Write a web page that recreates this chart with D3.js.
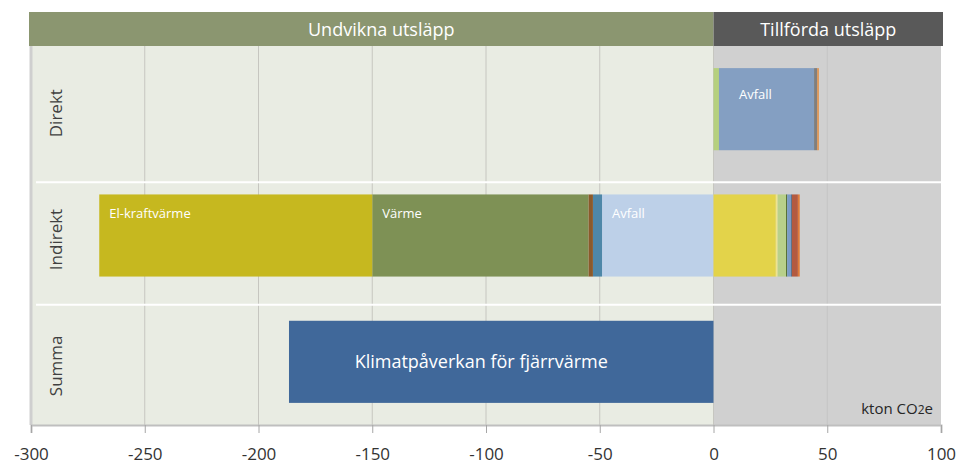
<!DOCTYPE html>
<html>
<head>
<meta charset="utf-8">
<script src="https://cdn.jsdelivr.net/npm/d3@7"></script>
<style>
  body { margin: 0; background: #fff; }
  svg text { font-family: "Open Sans", sans-serif; }
</style>
</head>
<body>
<svg id="chart"></svg>
<script>
// ---- data ----
const categories = ["Direkt", "Indirekt", "Summa"];
const headers = ["Undvikna utsläpp", "Tillförda utsläpp"];
const headerDomains = [[-300, 0], [0, 100]];
const xTicks = [-300, -250, -200, -150, -100, -50, 0, 50, 100];

// stacked outward from 0
const direktPos = [2.4, 41.8, 1.4, 0.7];
const direktPosLabels = ["", "Avfall", "", ""];
const direktPosColors = ["#b5d07e", "#849fc2", "#7f7f7f", "#e3914a"];

const indirektNeg = [49, 4, 2, 95, 120];
const indirektNegLabels = ["Avfall", "", "", "Värme", "El-kraftvärme"];
const indirektNegColors = ["#bdd0e8", "#4e87a8", "#8b5a2b", "#7e9155", "#c6b81f"];

const indirektPos = [27.4, 0.8, 3.7, 0.5, 1.8, 0.3, 2.6, 0.8];
const indirektPosColors = ["#e3d34a", "#efe48c", "#b8d08a", "#4e6b2e", "#7a9cc6", "#3d4e66", "#b35a40", "#e07b39"];

const summa = [-186.6];
const summaLabel = "Klimatpåverkan för fjärrvärme";

// ---- layout ----
const W = 961, H = 465;
const M = { top: 46, left: 31, right: 20, bottom: 40 };
const svg = d3.select("#chart").attr("width", W).attr("height", H);

const x = d3.scaleLinear().domain([-300, 100]).range([M.left, W - M.right]);
const y = d3.scaleBand().domain(categories).range([M.top, H - M.bottom]).paddingInner(0.35).paddingOuter(0.175);

// backgrounds
svg.append("rect").attr("x", x(-300)).attr("y", M.top).attr("width", x(0) - x(-300))
  .attr("height", H - M.bottom - M.top).attr("fill", "#e9ece3");
svg.append("rect").attr("x", x(0)).attr("y", M.top).attr("width", x(100) - x(0))
  .attr("height", H - M.bottom - M.top).attr("fill", "#d0d0d0");

// header bands
const headerColors = ["#8b9670", "#595959"];
headers.forEach((h, i) => {
  const [a, b] = headerDomains[i];
  const x0 = x(a) - (i === 0 ? 2 : 0), x1 = x(b) + (i === 1 ? 2 : 0);
  svg.append("rect").attr("x", x0).attr("y", 12).attr("width", x1 - x0).attr("height", M.top - 12)
    .attr("fill", headerColors[i]);
  svg.append("text").attr("x", (x0 + x1) / 2 + (i === 0 ? 10 : 0)).attr("y", 36)
    .attr("text-anchor", "middle").attr("fill", "#fff").attr("font-size", 18).text(h);
});

// gridlines
svg.append("g").selectAll("line").data(xTicks.slice(1, -1)).join("line")
  .attr("x1", d => x(d)).attr("x2", d => x(d)).attr("y1", M.top).attr("y2", H - M.bottom)
  .attr("stroke", d => d > 0 ? "#c4c4c4" : "#c6c6c0").attr("stroke-width", 1);

// row separators
const sepOffsets = [10, 6];
categories.slice(1).forEach((c, i) => {
  const yy = y(c) - y.step() * y.paddingInner() / 2 + sepOffsets[i];
  svg.append("line").attr("x1", x(-300) + 5).attr("x2", x(100)).attr("y1", yy).attr("y2", yy)
    .attr("stroke", "#fff").attr("stroke-width", 2);
});

// left border
svg.append("line").attr("x1", x(-300)).attr("x2", x(-300)).attr("y1", M.top).attr("y2", H - M.bottom)
  .attr("stroke", "#cfcfcf").attr("stroke-width", 3);

// stacked segments
function stack(cat, values, colors, labels, sign, labelDy, labelDx) {
  let acc = 0;
  values.forEach((v, i) => {
    const a = acc, b = acc + sign * v;
    acc = b;
    const x0 = x(Math.min(a, b)), x1 = x(Math.max(a, b));
    svg.append("rect").attr("x", x0).attr("y", y(cat)).attr("width", x1 - x0)
      .attr("height", y.bandwidth()).attr("fill", colors[i]);
    if (labels && labels[i]) {
      svg.append("text").attr("x", x0 + labelDx).attr("y", y(cat) + labelDy)
        .attr("fill", "#fff").attr("font-size", 13).text(labels[i]);
    }
  });
}
stack("Direkt", direktPos, direktPosColors, direktPosLabels, 1, 31, 20);
stack("Indirekt", indirektNeg, indirektNegColors, indirektNegLabels, -1, 24, 10);
stack("Indirekt", indirektPos, indirektPosColors, null, 1, 0, 0);

svg.append("rect").attr("x", x(summa[0])).attr("y", y("Summa"))
  .attr("width", x(0) - x(summa[0])).attr("height", y.bandwidth()).attr("fill", "#40689a");
svg.append("text").attr("x", (x(summa[0]) + x(0)) / 2 - 20).attr("y", y("Summa") + y.bandwidth() / 2 + 6)
  .attr("text-anchor", "middle").attr("fill", "#fff").attr("font-size", 18).text(summaLabel);

// category labels
svg.append("g").selectAll("text").data(categories).join("text")
  .attr("transform", d => `translate(62,${y(d) + y.bandwidth() / 2 + 4}) rotate(-90)`)
  .attr("text-anchor", "middle").attr("fill", "#404040").attr("font-size", 17).text(d => d);

// unit label
const unit = svg.append("text").attr("x", x(100) - 8).attr("y", H - M.bottom - 11)
  .attr("text-anchor", "end").attr("fill", "#262626").attr("font-size", 15);
unit.append("tspan").text("kton CO");
unit.append("tspan").attr("font-size", 12).text("2");
unit.append("tspan").text("e");

// x axis
const axis = svg.append("g").attr("transform", `translate(0,${H - M.bottom})`)
  .call(d3.axisBottom(x).tickValues(xTicks).tickSize(8).tickPadding(15).tickFormat(d => String(d)));
axis.select(".domain").attr("stroke", "#bfbfbf").attr("stroke-width", 2);
axis.selectAll(".tick line").attr("stroke", "#a6a6a6");
axis.selectAll(".tick text").attr("fill", "#333").attr("font-size", 17)
  .attr("font-family", "'Open Sans', sans-serif");
</script>
</body>
</html>
